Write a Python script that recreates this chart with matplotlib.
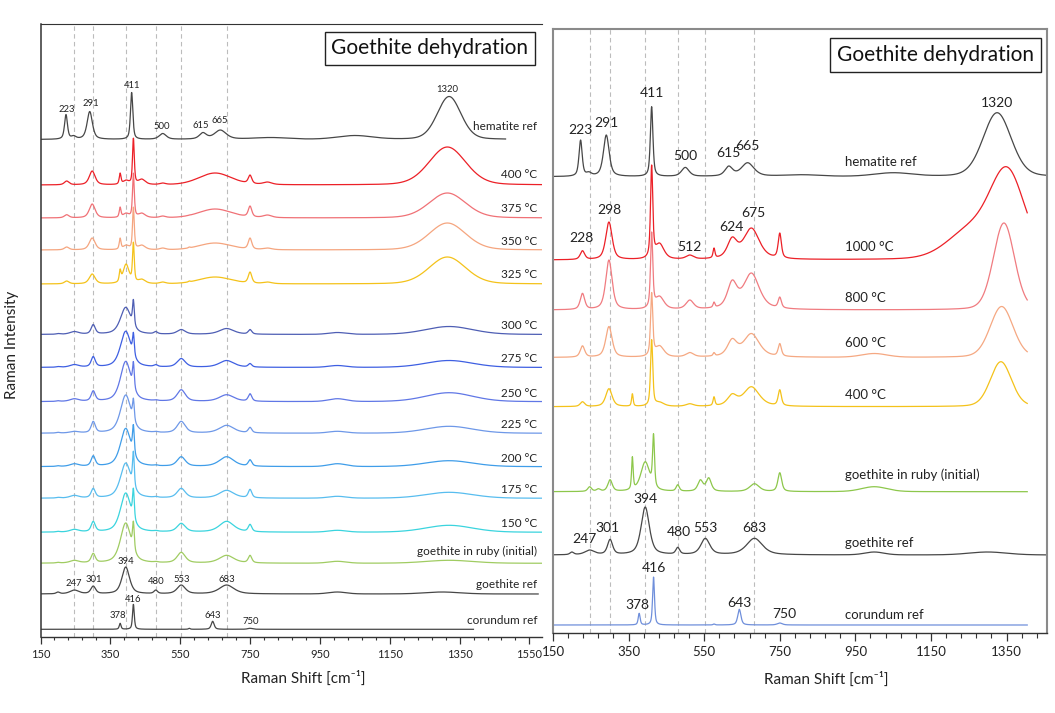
import numpy as np
import matplotlib.pyplot as plt
from matplotlib.ticker import FixedLocator

plt.rcParams['font.family'] = ['Lato', 'DejaVu Sans']

# ---------------- peak tables ----------------
# centre [cm-1], half width [cm-1]; heights are peak tops above the baseline
hem_pos = [223, 245, 291, 411, 500, 615, 665, 810, 1050, 1320]
hem_wid = [5, 8, 9, 4, 12, 12, 20, 60, 60, 40]
hem_ref_left = [25, 4, 28, 47, 6, 7, 9.5, 2, 4, 43]
hem_ref_right = [36.7, 5, 41.7, 70, 9.3, 10.7, 14, 2, 4, 64]

# left panel, 325-400 C (hematite forming)
heat_pos = [225, 298, 378, 395, 416, 440, 500, 576, 650, 750, 800, 1315]
heat_wid = [8, 10, 3, 10, 3, 12, 10, 3, 55, 6, 15, 62]
heat_names = ['400 °C', '375 °C', '350 °C', '325 °C']
heat_400 = [4, 14, 12, 5, 47, 6, 2, 2, 12, 10, 3, 38]
heat_375 = [3.3, 14, 11, 5, 45, 5, 2, 3, 9, 12, 3, 25]
heat_350 = [3, 12, 12, 5, 43, 5, 2, 3, 7, 12, 2, 27]
heat_325 = [3, 10, 15, 20, 42, 5, 2, 3, 7, 12, 2, 27]

# left panel, 150-300 C and initial (goethite in ruby)
goe_pos = [200, 247, 301, 378, 394, 416, 480, 553, 683, 750, 1000, 1320]
goe_wid = [6, 15, 7, 3, 18, 3, 6, 14, 25, 6, 30, 80]
goe_names = ['300 °C', '275 °C', '250 °C', '225 °C', '200 °C', '175 °C',
             '150 °C', 'goethite in ruby (initial)']
goe_300 = [1, 3, 10, 5, 27, 35, 3, 5, 6, 5, 2, 8]
goe_275 = [1, 3, 11, 5, 36, 35, 3, 9, 7, 4, 2, 7]
goe_250 = [1, 3, 11, 5, 40, 40, 2, 12, 7, 8, 3, 9]
goe_225 = [1, 2, 12, 5, 38, 35, 2, 12, 8, 6, 2, 7]
goe_200 = [1, 3, 11, 5, 38, 42, 2, 10, 10, 7, 3, 6]
goe_175 = [1, 3, 10, 5, 35, 47, 2, 10, 8, 9, 2, 6]
goe_150 = [1, 3, 11, 5, 39, 44, 2, 9, 11, 8, 2, 7]
goe_ruby = [1, 3, 10, 5, 40, 42, 2, 11, 8, 8, 2, 3]

# goethite reference
gref_pos = [200, 247, 301, 394, 480, 553, 683, 1000, 1300]
gref_wid = [6, 15, 8, 13, 6, 14, 25, 30, 60]
gref_left = [2, 4, 8, 27, 4, 9, 9, 2, 2]
gref_right = [3, 5, 15.7, 48, 7.7, 16.7, 16.7, 3, 3]

# corundum reference
cor_pos = [378, 416, 576, 643, 750]
cor_wid = [3, 3, 3, 5, 8]
cor_left = [6, 25, 1, 8, 1]
cor_right = [11.7, 48, 1, 15.7, 2]

# right panel, heated 400-1000 C
rh_pos = [228, 298, 360, 411, 432, 512, 576, 624, 675, 750, 1000, 1250]
rh_wid = [7, 10, 2.5, 3.5, 14, 12, 3, 15, 25, 5, 40, 70]
rh_names = ['1000 °C', '800 °C', '600 °C', '400 °C']
rh_1000 = [9.3, 38, 0, 95, 17, 5, 12, 23, 32, 27, 0, 37]
rh_800 = [16.7, 50, 0, 78, 14, 10, 8, 30, 37, 13, 0, 0]
rh_600 = [11.7, 31, 0, 65, 12, 5, 5, 19, 24, 14, 4, 0]
rh_400 = [5, 18, 13, 67, 5, 3, 10, 13, 20, 17, 0, 0]
rh_band_pos = [1352, 1343, 1337, 1335]
rh_band_wid = [55, 33, 36, 33]
rh_band_h = [93, 87, 51, 45]

# right panel, goethite in ruby (initial)
gr_pos = [247, 270, 301, 360, 394, 416, 480, 540, 562, 683, 750, 1000]
gr_wid = [6, 6, 7, 2.5, 14, 3, 5, 8, 8, 15, 6, 40]
gr_h = [5, 3, 12, 35, 30, 58, 7, 12, 14, 8, 19, 5]

goe_lines = [247, 301, 394, 480, 553, 683]


def prof(xx, c, w):
    eta = np.where(w < 30, 0.6, 0.2)
    d = ((xx - c) / w) ** 2
    return eta / (1 + d) + (1 - eta) * np.exp(-np.log(2) * d)


def spectrum(x, pos, wid, heights):
    pos = np.asarray(pos, float)
    wid = np.asarray(wid, float)
    h = np.asarray(heights, float)
    keep = h > 0
    pos, wid, h = pos[keep], wid[keep], h[keep]
    M = prof(pos[:, None], pos[None, :], wid[None, :])
    amp = np.clip(np.linalg.solve(M, h), 0, None)
    return prof(x[:, None], pos[None, :], wid[None, :]) @ amp


W, H = 1055, 713
fig = plt.figure(figsize=(W / 100, H / 100), dpi=100)
axL = fig.add_axes([40.5 / W, (H - 637) / H, (542 - 40.5) / W, (637 - 24) / H])
axR = fig.add_axes([553 / W, (H - 633.3) / H, (1047 - 553) / W, (633.3 - 29) / H])

LX1, RX1 = 1586, 1457
axL.set_xlim(150, LX1)
axL.set_ylim(0, 613)
axR.set_xlim(150, RX1)
axR.set_ylim(0, 604.3)

dash = dict(color='#bcbcbc', lw=0.8, ls=(0, (4, 3)), zorder=0)
axL.vlines(goe_lines, 0, 613, **dash)
axR.vlines(goe_lines, 0, 604.3, **dash)

xl = np.linspace(150, LX1, 3000)
xr = np.linspace(150, RX1, 3000)


def draw(ax, top, xs, end, pos, wid, hts, base_px, color, lw=0.9):
    x = xs[xs <= end]
    y = spectrum(x, pos, wid, hts) + (top - base_px)
    ax.plot(x, y, color=color, lw=lw, zorder=2)


# ---------------- left panel ----------------
TL = 637
draw(axL, TL, xl, 1482, hem_pos, hem_wid, hem_ref_left, 139.5, '#474747')
heat_cols = ['#ec2027', '#f07176', '#f5a57f', '#f4c21a']
heat_base = [185, 218, 250, 284]
for vals, col, b in zip([heat_400, heat_375, heat_350, heat_325], heat_cols, heat_base):
    draw(axL, TL, xl, LX1, heat_pos, heat_wid, vals, b, col)
goe_cols = ['#4e5eb4', '#3e5fe2', '#6077e6', '#6e98e8', '#3f9de9', '#58bdef',
            '#3ad4de', '#a0cc62']
goe_base = [334.5, 367.5, 401.7, 433.3, 466.7, 498.3, 532.3, 563.3]
for vals, col, b in zip([goe_300, goe_275, goe_250, goe_225, goe_200, goe_175,
                         goe_150, goe_ruby], goe_cols, goe_base):
    draw(axL, TL, xl, LX1, goe_pos, goe_wid, vals, b, col)
draw(axL, TL, xl, 1575, gref_pos, gref_wid, gref_left, 594, '#474747')
draw(axL, TL, xl, 1390, cor_pos, cor_wid, cor_left, 629.3, '#474747')

left_labels = ['hematite ref'] + heat_names + goe_names + ['goethite ref', 'corundum ref']
left_label_y = [127, 174, 208, 241.7, 275, 325.7, 358, 393.3, 425, 458.3, 489.3,
                523.3, 551.7, 584, 621]
for t, yp in zip(left_labels, left_label_y):
    axL.text(1572, TL - yp, t, ha='right', va='center', fontsize=8.5, color='#222222')

left_peaks = [('223', 225, 109), ('291', 293, 104), ('411', 411, 86), ('500', 498, 126.7),
              ('615', 609, 126), ('665', 663, 120.7), ('1320', 1315, 89.3),
              ('247', 244, 583), ('301', 303, 580), ('394', 394, 562), ('480', 481, 582),
              ('553', 555, 579), ('683', 683, 579),
              ('416', 416, 599), ('378', 372, 615), ('643', 643, 615), ('750', 752, 621)]
for t, xp, yp in left_peaks:
    axL.text(xp, TL - yp, t, ha='center', va='center', fontsize=6.8, color='#222222')

axL.text(1265, TL - 48.5, 'Goethite dehydration', ha='center', va='center', fontsize=15,
         color='#111111',
         bbox=dict(boxstyle='square,pad=0.33', fc='white', ec='#222222', lw=1))

# ---------------- right panel ----------------
TR = 633.3
draw(axR, TR, xr, RX1, hem_pos[:-1] + [1325], hem_wid[:-1] + [44], hem_ref_right, 176.7,
     '#474747')
rh_cols = ['#ec2027', '#f07b80', '#f5a882', '#f4c21a']
rh_base = [260, 310, 357.5, 406.7]
for i, vals in enumerate([rh_1000, rh_800, rh_600, rh_400]):
    draw(axR, TR, xr, 1405, rh_pos + [rh_band_pos[i]], rh_wid + [rh_band_wid[i]],
         vals + [rh_band_h[i]], rh_base[i], rh_cols[i])
draw(axR, TR, xr, 1405, gr_pos, gr_wid, gr_h, 491.7, '#8dc74b')
draw(axR, TR, xr, RX1, gref_pos, gref_wid, gref_right, 555, '#474747')
draw(axR, TR, xr, 1405, cor_pos, cor_wid, cor_right, 625, '#6f8fdb')

right_labels = ['hematite ref'] + rh_names + ['goethite in ruby (initial)',
                                               'goethite ref', 'corundum ref']
right_label_y = [161.7, 246.7, 298.3, 343.3, 395, 475, 542.7, 615]
for t, yp in zip(right_labels, right_label_y):
    axR.text(922, TR - yp, t, ha='left', va='center', fontsize=9.5, color='#222222')

right_peaks = [('223', 223, 130), ('291', 291, 123), ('411', 411, 93), ('500', 500, 156),
               ('615', 615, 153), ('665', 665, 146), ('1320', 1325, 103),
               ('228', 225, 238), ('298', 300, 210), ('512', 512, 247), ('624', 622, 227),
               ('675', 680, 213),
               ('247', 233, 539), ('301', 294, 528), ('394', 394, 499), ('480', 483, 532),
               ('553', 553, 528), ('683', 683, 528),
               ('416', 418, 568), ('378', 372, 605), ('643', 643, 603), ('750', 762, 614)]
for t, xp, yp in right_peaks:
    axR.text(xp, TR - yp, t, ha='center', va='center', fontsize=10, color='#222222')

axR.text(1162, TR - 55, 'Goethite dehydration', ha='center', va='center', fontsize=15,
         color='#111111',
         bbox=dict(boxstyle='square,pad=0.33', fc='white', ec='#222222', lw=1))

# ---------------- axes styling ----------------
for ax, x1, ls, ln in [(axL, LX1, 8, 5), (axR, RX1, 9.5, 6)]:
    ax.set_yticks([])
    ax.xaxis.set_major_locator(FixedLocator(np.arange(150, x1, 200)))
    ax.xaxis.set_minor_locator(FixedLocator(np.arange(150, x1, 40)))
    ax.tick_params(axis='x', which='major', direction='out', length=ln, width=0.9,
                   labelsize=ls, color='#333333', labelcolor='#222222')
    ax.tick_params(axis='x', which='minor', direction='out', length=ln - 2.5, width=0.8,
                   color='#333333')

axL.spines['right'].set_visible(False)
for s in ['left', 'top', 'bottom']:
    axL.spines[s].set_color('#333333')
axL.spines['left'].set_linewidth(1.1)
axL.spines['top'].set_linewidth(0.8)
axL.spines['bottom'].set_linewidth(1.0)

for s in ['left', 'top', 'right']:
    axR.spines[s].set_color('#8a8a8a')
    axR.spines[s].set_linewidth(1.5)
axR.spines['bottom'].set_color('#333333')
axR.spines['bottom'].set_linewidth(1.0)

fig.text(303 / W, 1 - 678 / H, 'Raman Shift [cm⁻¹]', ha='center', va='center',
         fontsize=11, color='#222222')
fig.text(826 / W, 1 - 679 / H, 'Raman Shift [cm⁻¹]', ha='center', va='center',
         fontsize=11, color='#222222')
fig.text(12 / W, 1 - 345 / H, 'Raman Intensity', ha='center', va='center', rotation=90,
         fontsize=11, color='#222222')

fig.savefig('out.png', dpi=100, facecolor='white')
